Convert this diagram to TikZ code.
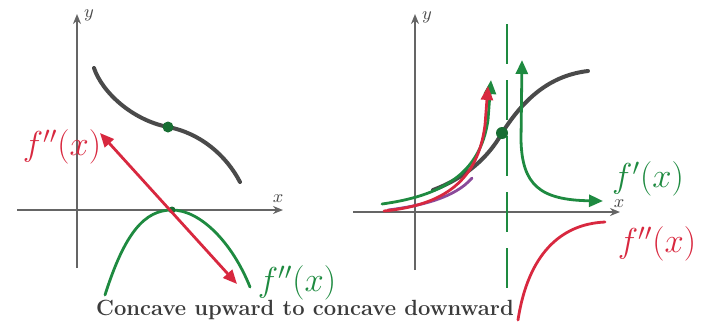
\documentclass[tikz,border=0pt]{standalone}
\usepackage{tikz}
\usetikzlibrary{positioning,arrows.meta}
\definecolor{Pen}{HTML}{1E8A40}
\definecolor{Ink}{HTML}{D8283F}
\definecolor{Lead}{HTML}{4A4A4A}
\definecolor{Plum}{HTML}{8A4A9A}

\begin{document}
\begin{tikzpicture}[x=0.5pt, y=-0.5pt,
  axisline/.style={draw=Lead!85, line width=1.3pt, -{Stealth[length=5pt,width=4pt]}},
  graph/.style={draw=Lead, line width=2pt, line cap=round},
  greenpen/.style={draw=Pen, line width=1.4pt, line cap=round},
  redpen/.style={draw=Ink, line width=1.4pt, line cap=round},
  tip/.style={-{Triangle[length=7pt,width=6pt]}},
  axislabel/.style={inner sep=0pt, font=\small\itshape, text=Lead},
  hand/.style={inner sep=0pt, font=\LARGE}]
\useasboundingbox (0,0) rectangle (702,328);

% left panel
\draw[axisline] (77,268) -- (77,14);
\draw[axisline] (17,210) -- (283,210);
\node[axislabel] (ly) at (89,15) {$y$};
\node[axislabel] (lx) at (278,199) {$x$};
\coordinate (ltop) at (94,68);
\coordinate (linf) at (168,127);
\coordinate (lend) at (240,182);
\draw[graph] (ltop) .. controls (102,92) and (132,120) .. (linf)
  .. controls (200,133) and (226,155) .. (lend);
\fill[Pen!80!black] (linf) circle (5.5);
\coordinate (lpeak) at (172,210);
\draw[greenpen] (105,295) .. controls (125,232) and (145,210) .. (lpeak)
  .. controls (200,210) and (232,242) .. (250,287);
\fill[Pen!80!black] (lpeak) circle (3.5);
\node[hand, text=Ink] (lf2) at (62,147) {$f''(x)$};
\node[hand, text=Pen] (lg2) at (297,283) {$f''(x)$};
\coordinate (ra) at (100,133);
\coordinate (rb) at (237,284);
\draw[redpen, {Triangle[length=7pt,width=6pt]}-{Triangle[length=7pt,width=6pt]}] (ra) -- (rb);

% right panel
\draw[axisline] (415,270) -- (415,14);
\draw[axisline] (353,212) -- (620,212);
\node[axislabel] (ry) at (427,17) {$y$};
\node[axislabel] (rx) at (619,204) {$x$};
\draw[Pen, line width=1.2pt, dash pattern=on 20pt off 8pt] (507,24) -- (507,302);
\coordinate (rinf) at (502,133);
\draw[graph] (433,190) .. controls (465,178) and (488,158) .. (rinf)
  .. controls (520,105) and (545,76) .. (588,71);
\draw[Plum, line width=1.4pt, line cap=round] (388,210) .. controls (420,206) and (455,198) .. (472,178);
\draw[greenpen, tip] (382,204) .. controls (440,196) and (480,175) .. (488,120) -- (491,80);
\draw[redpen, tip] (384,211) .. controls (445,205) and (478,180) .. (485,125) -- (488,86);
\fill[Pen!80!black] (rinf) circle (6);
\draw[greenpen, {Triangle[length=7pt,width=6pt]}-{Triangle[length=7pt,width=6pt]}] (522,60) -- (521,140) .. controls (522,185) and (540,200) .. (603,201);
\draw[redpen] (518,320) .. controls (528,255) and (560,224) .. (605,222);
\node[hand, text=Pen] (rg1) at (648,179) {$f'(x)$};
\node[hand, text=Ink] (rr2) at (657,244) {$f''(x)$};

\node[font=\fontsize{11}{13}\selectfont\bfseries, text=Lead!80!black] (cap) at (305,310) {Concave upward to concave downward};
\end{tikzpicture}
\end{document}
